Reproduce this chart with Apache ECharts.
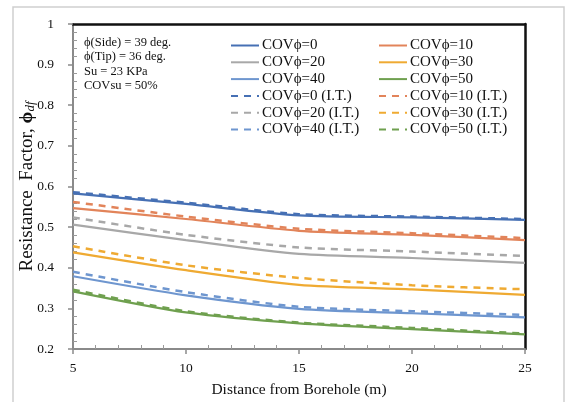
<!DOCTYPE html>
<html>
<head>
<meta charset="utf-8">
<script src="https://cdn.jsdelivr.net/npm/echarts@6/dist/echarts.min.js"></script>
<style>html,body{margin:0;padding:0;background:#fff;}#c{width:566px;height:402px;}</style>
</head>
<body>
<div id="c"></div>
<script>
var distances = [5, 10, 15, 20, 25];
var cov0   = [0.583, 0.557, 0.529, 0.524, 0.518];
var cov10  = [0.547, 0.520, 0.491, 0.481, 0.468];
var cov20  = [0.506, 0.468, 0.434, 0.424, 0.412];
var cov30  = [0.438, 0.394, 0.358, 0.347, 0.333];
var cov40  = [0.379, 0.332, 0.299, 0.288, 0.278];
var cov50  = [0.342, 0.290, 0.263, 0.249, 0.236];
var cov0IT  = [0.586, 0.560, 0.532, 0.526, 0.520];
var cov10IT = [0.562, 0.526, 0.496, 0.485, 0.473];
var cov20IT = [0.524, 0.481, 0.450, 0.440, 0.429];
var cov30IT = [0.453, 0.406, 0.375, 0.357, 0.347];
var cov40IT = [0.390, 0.340, 0.304, 0.293, 0.284];
var cov50IT = [0.346, 0.293, 0.265, 0.252, 0.238];
var names = ['COV\u03d5=0','COV\u03d5=10','COV\u03d5=20','COV\u03d5=30','COV\u03d5=40','COV\u03d5=50'];
var namesIT = names.map(function(n){return n + ' (I.T.)';});
var colors = ['#4670b4','#e2845a','#a8a8a8','#efaa32','#6e96cf','#6fa04f'];
var solidData = [cov0, cov10, cov20, cov30, cov40, cov50];
var itData = [cov0IT, cov10IT, cov20IT, cov30IT, cov40IT, cov50IT];
var notes = ['\u03d5(Side) = 39 deg.', '\u03d5(Tip) = 36 deg.', 'Su = 23 KPa', 'COVsu = 50%'];

var serif = '"Liberation Serif", "DejaVu Serif", serif';
function pairs(arr){ return distances.map(function(d,i){return [d, arr[i]];}); }
var series = [];
solidData.forEach(function(arr,i){
  series.push({name:names[i], type:'line', data:pairs(arr), smooth:0.25, symbol:'none',
    lineStyle:{color:colors[i], width:2.2, type:'solid'}, itemStyle:{color:colors[i]}, z:3});
});
itData.forEach(function(arr,i){
  series.push({name:namesIT[i], type:'line', data:pairs(arr), smooth:0.25, symbol:'none',
    lineStyle:{color:colors[i], width:2.5, type:[7,6]}, itemStyle:{color:colors[i]}, z:4});
});
var legendLeft = [names[0],names[2],names[4],namesIT[0],namesIT[2],namesIT[4]];
var legendRight = [names[1],names[3],names[5],namesIT[1],namesIT[3],namesIT[5]];
var legendCommon = {orient:'vertical', itemWidth:28, itemHeight:10, itemGap:1.8,
  itemStyle:{opacity:0},
  textStyle:{fontFamily:serif, fontSize:15, color:'#111', padding:[0,0,0,-2]}, padding:0};

var chart = echarts.init(document.getElementById('c'));
chart.setOption({
  animation:false,
  backgroundColor:'#fff',
  grid:{left:73, right:41, top:24, bottom:53, outerBoundsMode:'none', containLabel:false},
  legend:[
    Object.assign({data:legendLeft, left:230, top:38}, legendCommon),
    Object.assign({data:legendRight, left:378, top:38}, legendCommon)
  ],
  graphic:[
    {type:'rect', shape:{x:13, y:7, width:551, height:400}, style:{fill:'none', stroke:'#cfcfcf', lineWidth:1.5}, silent:true},
    {type:'text', left:84, top:35, style:{text:notes.join('\n'), font:'12.5px ' + serif, lineHeight:14.5, fill:'#111'}}
  ],
  xAxis:[{
    type:'value', min:5, max:25, interval:5,
    name:'Distance from Borehole (m)', nameLocation:'middle', nameGap:33, nameMoveOverlap:false,
    nameTextStyle:{fontFamily:serif, fontSize:15.5, color:'#111'},
    axisLine:{lineStyle:{color:'#8a8a8a', width:2}},
    axisTick:{show:true, inside:false, length:5, lineStyle:{color:'#8a8a8a', width:1.5}},
    minorTick:{show:true, splitNumber:5, length:-4, lineStyle:{color:'#9a9a9a'}},
    axisLabel:{fontFamily:serif, fontSize:13.5, color:'#111', margin:12},
    splitLine:{show:false}
  },{
    type:'value', min:5, max:25, position:'top',
    axisLine:{show:true, lineStyle:{color:'#111', width:2.5}},
    axisTick:{show:false}, axisLabel:{show:false}, splitLine:{show:false}
  }],
  yAxis:[{
    type:'value', min:0.2, max:1, interval:0.1,
    name:'Resistance  Factor, {phi|\u03d5}{sub|df}', nameLocation:'middle', nameGap:36, nameRotate:90, nameMoveOverlap:false,
    nameTextStyle:{fontFamily:serif, fontSize:19, color:'#111',
      rich:{phi:{fontFamily:serif, fontSize:19, fontWeight:'bold', color:'#111'},
            sub:{fontFamily:serif, fontSize:13, fontStyle:'italic', color:'#111', verticalAlign:'bottom', padding:[7,0,0,0]}}},
    axisLine:{show:true, lineStyle:{color:'#8a8a8a', width:2}},
    axisTick:{show:true, inside:false, length:5, lineStyle:{color:'#8a8a8a', width:1.5}},
    minorTick:{show:true, splitNumber:5, length:-4, lineStyle:{color:'#9a9a9a'}},
    axisLabel:{fontFamily:serif, fontSize:13.5, color:'#111', margin:19,
      formatter:function(v){return String(Math.round(v*10)/10);}},
    splitLine:{show:false}
  },{
    type:'value', min:0.2, max:1, position:'right',
    axisLine:{show:true, lineStyle:{color:'#111', width:2.5}},
    axisTick:{show:false}, axisLabel:{show:false}, splitLine:{show:false}
  }],
  series:series
});
</script>
</body>
</html>
